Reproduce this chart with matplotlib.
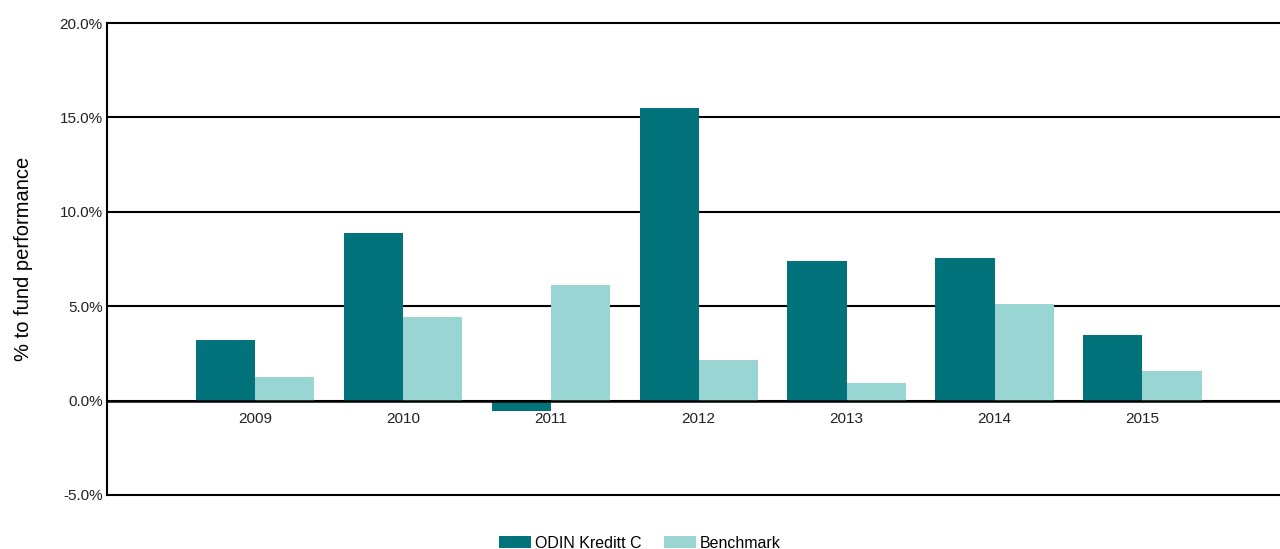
import matplotlib.pyplot as plt
import numpy as np
from matplotlib.ticker import FuncFormatter

# ================== DATA ==================

years = ['2009', '2010', '2011', '2012', '2013', '2014', '2015']
fund = [3.23, 8.9, -0.53, 15.5, 7.37, 7.58, 3.45]
benchmark = [1.25, 4.43, 6.1, 2.16, 0.94, 5.1, 1.58]

DARK = '#02737a'
LIGHT = '#99d6d3'

plt.rcParams['font.family'] = ['Liberation Sans', 'DejaVu Sans']

fig = plt.figure(figsize=(12.8, 5.49), dpi=100)
ax = fig.add_axes([0.0836, 0.0984, 0.9164, 0.8596])

x = np.arange(len(years))
w = 0.4
ax.bar(x - w / 2, fund, w, color=DARK, label='ODIN Kreditt C', zorder=3)
ax.bar(x + w / 2, benchmark, w, color=LIGHT, label='Benchmark', zorder=3)

ax.set_ylim(-5, 20)
ax.set_xlim(-1, 6.93)
ax.set_yticks([-5, 0, 5, 10, 15, 20])
ax.yaxis.set_major_formatter(FuncFormatter(lambda v, p: f'{v:.1f}%'))
ax.yaxis.grid(True, color='black', linewidth=1.5, zorder=1)
for gl in ax.yaxis.get_gridlines():
    gl.set_clip_on(False)

ax.set_xticks(x)
ax.set_xticklabels(years)
ax.spines['bottom'].set_position(('data', 0))
ax.spines['bottom'].set_visible(False)
ax.spines['top'].set_visible(False)
ax.spines['right'].set_visible(False)
ax.spines['left'].set_linewidth(1.5)
ax.axhline(0, color='black', linewidth=1.8, zorder=4)

ax.tick_params(axis='y', length=0, pad=3, labelsize=11, colors='#222222')
ax.tick_params(axis='x', length=0, pad=8, labelsize=11, colors='#222222')

ax.set_ylabel('% to fund performance', fontsize=14.5, labelpad=19)

fig.legend(loc='center', bbox_to_anchor=(0.5, 6 / 549), ncol=2,
           frameon=False, fontsize=11.5, handlelength=2.0, handleheight=0.75,
           columnspacing=1.4, handletextpad=0.25, borderpad=0)

fig.savefig('out.png', dpi=100)
